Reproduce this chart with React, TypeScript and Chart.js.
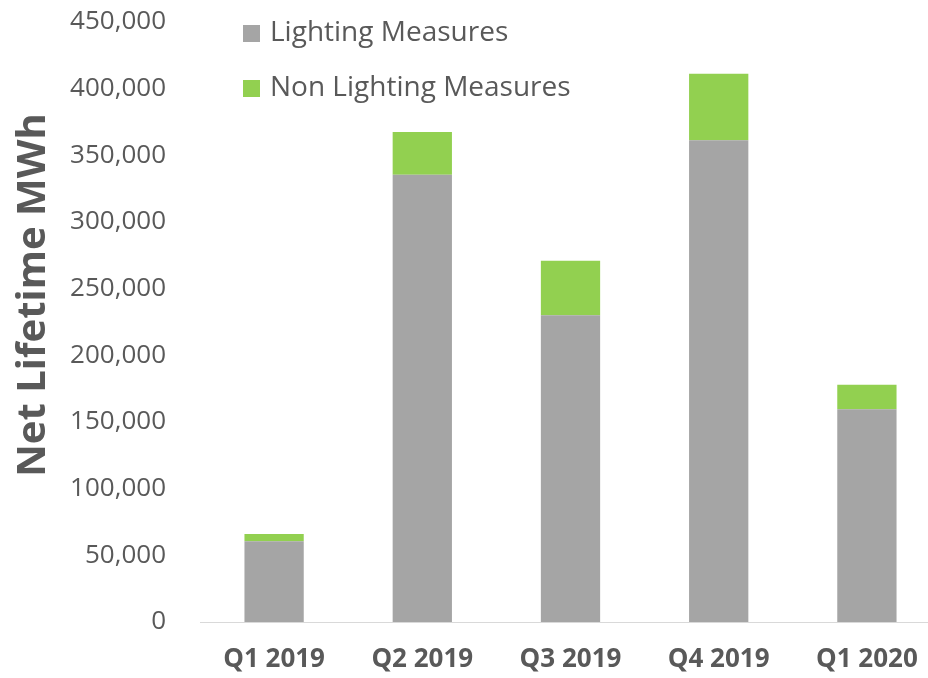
import React, { useEffect, useRef } from "react";
import { Chart, registerables } from "chart.js";

Chart.register(...registerables);

const categories = ["Q1 2019", "Q2 2019", "Q3 2019", "Q4 2019", "Q1 2020"];
const lightingValues = [60500, 335500, 230000, 361250, 159500];
const nonLightingValues = [5500, 32000, 41000, 50000, 18500];
const seriesNames = ["Lighting Measures", "Non Lighting Measures"];
const seriesColors = ["#A5A5A5", "#92D050"];
const yAxisTitle = "Net Lifetime MWh";
const yMax = 450000;
const yStep = 50000;

const FONT = "'Open Sans'";
const TEXT = "#595959";

const legendPlugin = {
  id: "insideLegend",
  afterDraw(chart: any) {
    const ctx = chart.ctx;
    ctx.save();
    ctx.font = `28px ${FONT}`;
    ctx.textBaseline = "middle";
    const x0 = 243;
    const ys = [33, 88];
    seriesNames.forEach((name, i) => {
      ctx.fillStyle = seriesColors[i];
      ctx.fillRect(x0, ys[i] - 8, 17, 17);
      ctx.fillStyle = TEXT;
      ctx.fillText(name, x0 + 27, ys[i]);
    });
    ctx.restore();

    // y-axis title
    ctx.save();
    ctx.font = `bold 40px ${FONT}`;
    ctx.fillStyle = TEXT;
    ctx.textAlign = "center";
    ctx.textBaseline = "alphabetic";
    ctx.translate(45, 295);
    ctx.rotate(-Math.PI / 2);
    ctx.fillText(yAxisTitle, 0, 0);
    ctx.restore();
  },
};

export default function App() {
  const ref = useRef<HTMLCanvasElement>(null);
  useEffect(() => {
    document.body.style.margin = "0";
    document.body.style.overflow = "hidden";
    const chart = new Chart(ref.current!, {
      type: "bar",
      data: {
        labels: categories,
        datasets: [
          {
            label: seriesNames[0],
            data: lightingValues,
            backgroundColor: seriesColors[0],
            barPercentage: 0.4,
            categoryPercentage: 1,
          },
          {
            label: seriesNames[1],
            data: nonLightingValues,
            backgroundColor: seriesColors[1],
            barPercentage: 0.4,
            categoryPercentage: 1,
          },
        ],
      },
      options: {
        responsive: false,
        animation: false,
        layout: { padding: { top: 22, right: 0, bottom: 0, left: 0 } },
        plugins: {
          legend: { display: false },
          tooltip: { enabled: false },
        },
        scales: {
          x: {
            stacked: true,
            grid: { display: false, drawTicks: false },
            border: { display: true, color: "#D9D9D9", width: 1 },
            ticks: {
              color: TEXT,
              font: { family: FONT, size: 26, weight: "bold" },
              padding: 22,
            },
            afterFit(scale: any) {
              scale.height = 56;
              scale.paddingLeft = 0;
              scale.paddingRight = 0;
            },
          },
          y: {
            stacked: true,
            min: 0,
            max: yMax,
            grid: { display: false, drawTicks: false },
            border: { display: false },
            ticks: {
              stepSize: yStep,
              color: TEXT,
              font: { family: FONT, size: 26 },
              padding: 34,
              callback: (v: any) => Number(v).toLocaleString("en-US"),
            },
            title: { display: false, text: yAxisTitle },
            afterFit(scale: any) {
              scale.width = 200;
              scale.paddingTop = 0;
              scale.paddingBottom = 0;
            },
          },
        },
      },
      plugins: [legendPlugin],
    });
    return () => chart.destroy();
  }, []);
  return (
    <div style={{ width: 941, height: 678 }}>
      <canvas ref={ref} width={941} height={678} />
    </div>
  );
}
